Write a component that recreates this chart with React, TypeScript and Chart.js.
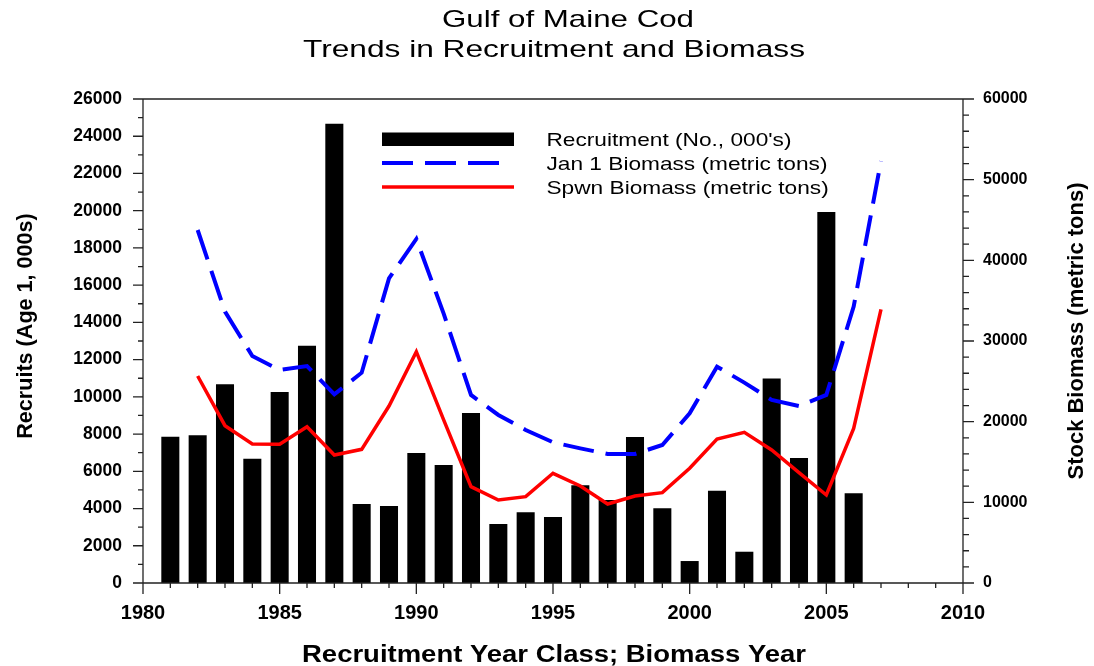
import React, { useEffect, useRef } from 'react';
import { Chart, registerables } from 'chart.js';

Chart.register(...registerables);

// ---------- data ----------
const titleLines = ['Gulf of Maine Cod', 'Trends in Recruitment and Biomass'];
const xAxisTitle = 'Recruitment Year Class; Biomass Year';
const leftAxisTitle = 'Recruits (Age 1, 000s)';
const rightAxisTitle = 'Stock Biomass (metric tons)';
const legendLabels = ["Recruitment (No., 000's)", 'Jan 1 Biomass (metric tons)', 'Spwn Biomass (metric tons)'];

const recruitYears = [1981, 1982, 1983, 1984, 1985, 1986, 1987, 1988, 1989, 1990, 1991, 1992, 1993,
  1994, 1995, 1996, 1997, 1998, 1999, 2000, 2001, 2002, 2003, 2004, 2005, 2006];
const recruits = [7860, 7940, 10670, 6680, 10260, 12750, 24670, 4240, 4140, 6980, 6340, 9130, 3170,
  3800, 3550, 5250, 4460, 7840, 4010, 1180, 4960, 1680, 10980, 6720, 19930, 4820];

const biomassYears = [1982, 1983, 1984, 1985, 1986, 1987, 1988, 1989, 1990, 1991, 1992, 1993, 1994,
  1995, 1996, 1997, 1998, 1999, 2000, 2001, 2002, 2003, 2004, 2005, 2006, 2007];
const jan1Biomass = [43760, 33640, 28140, 26400, 26900, 23390, 26070, 37770, 42650, 33400, 23310, 20830, 18970,
  17450, 16690, 15990, 16000, 17110, 21030, 26820, 24840, 22690, 21940, 23310, 34260, 52310];
const spawnBiomass = [25660, 19500, 17230, 17190, 19380, 15870, 16570, 21940, 28680, 20210, 11940, 10290, 10700,
  13600, 12030, 9790, 10790, 11200, 14220, 17850, 18680, 16490, 13680, 10910, 19170, 33930];

const xRange = [1980, 2010];
const xTickStep = 5;
const leftRange = [0, 26000];
const leftTickStep = 2000;
const rightRange = [0, 60000];
const rightTickStep = 10000;

// ---------- styles ----------
const FONT = '"Liberation Sans", Arial, Helvetica, sans-serif';
const BLUE = '#0000ff';
const RED = '#ff0000';
const BAR = '#000000';
const DASH = [31, 12];

function stretchText(ctx: CanvasRenderingContext2D, text: string, x: number, y: number, font: string, sx: number, align: CanvasTextAlign) {
  ctx.save();
  ctx.font = font;
  ctx.translate(x, y);
  ctx.scale(sx, 1);
  ctx.textAlign = align;
  ctx.textBaseline = 'alphabetic';
  ctx.fillStyle = '#000';
  ctx.fillText(text, 0, 0);
  ctx.restore();
}

function fitScale(ctx: CanvasRenderingContext2D, text: string, font: string, width: number) {
  ctx.save();
  ctx.font = font;
  const w = ctx.measureText(text).width;
  ctx.restore();
  return width / w;
}

const framePlugin = {
  id: 'frameTicks',
  afterDatasetsDraw(chart: any) {
    const { ctx, chartArea: a, scales } = chart;
    ctx.save();
    ctx.strokeStyle = '#222';
    ctx.lineWidth = 1.3;
    ctx.beginPath();
    ctx.rect(a.left, a.top, a.right - a.left, a.bottom - a.top);
    // left ticks
    for (let v = leftRange[0]; v <= leftRange[1]; v += leftTickStep / 2) {
      const p = scales.y.getPixelForValue(v);
      const len = v % leftTickStep === 0 ? 10 : 5;
      ctx.moveTo(a.left - len, p);
      ctx.lineTo(a.left, p);
    }
    // right ticks
    for (let v = rightRange[0]; v <= rightRange[1]; v += rightTickStep / 5) {
      const p = scales.y2.getPixelForValue(v);
      const len = v % rightTickStep === 0 ? 11 : 6;
      ctx.moveTo(a.right, p);
      ctx.lineTo(a.right + len, p);
    }
    // x ticks
    for (let v = xRange[0]; v <= xRange[1]; v += 1) {
      const p = scales.x.getPixelForValue(v);
      const len = v % xTickStep === 0 ? 11 : 5;
      ctx.moveTo(p, a.bottom);
      ctx.lineTo(p, a.bottom + len);
    }
    ctx.stroke();
    ctx.restore();
  },
};

const textPlugin = {
  id: 'texts',
  afterDraw(chart: any) {
    const ctx: CanvasRenderingContext2D = chart.ctx;
    // title
    const tFont = `24px ${FONT}`;
    stretchText(ctx, titleLines[0], 568, 27, tFont, fitScale(ctx, titleLines[0], tFont, 252), 'center');
    stretchText(ctx, titleLines[1], 554, 56.5, tFont, fitScale(ctx, titleLines[1], tFont, 502), 'center');

    // x axis title
    const xFont = `bold 23px ${FONT}`;
    stretchText(ctx, xAxisTitle, 554, 661.5, xFont, fitScale(ctx, xAxisTitle, xFont, 504), 'center');

    // y axis titles
    ctx.save();
    ctx.fillStyle = '#000';
    ctx.font = `bold 21.6px ${FONT}`;
    ctx.textAlign = 'center';
    ctx.textBaseline = 'alphabetic';
    ctx.translate(32, 326);
    ctx.rotate(-Math.PI / 2);
    ctx.fillText(leftAxisTitle, 0, 0);
    ctx.restore();

    ctx.save();
    ctx.fillStyle = '#000';
    ctx.font = `bold 22px ${FONT}`;
    ctx.textAlign = 'center';
    ctx.textBaseline = 'alphabetic';
    ctx.translate(1083, 331);
    ctx.rotate(-Math.PI / 2);
    ctx.fillText(rightAxisTitle, 0, 0);
    ctx.restore();

    // legend
    const ds = chart.data.datasets;
    const barDs = ds.find((d: any) => d.type === 'bar');
    const jan = ds[0];
    const spw = ds[1];
    const lx0 = 382;
    const lx1 = 514;
    ctx.save();
    ctx.fillStyle = barDs.backgroundColor;
    ctx.fillRect(lx0, 132.5, lx1 - lx0, 13.5);
    ctx.strokeStyle = jan.borderColor;
    ctx.lineWidth = jan.borderWidth;
    ctx.setLineDash(jan.borderDash);
    ctx.beginPath();
    ctx.moveTo(lx0, 163);
    ctx.lineTo(501, 163);
    ctx.stroke();
    ctx.setLineDash([]);
    ctx.strokeStyle = spw.borderColor;
    ctx.lineWidth = spw.borderWidth;
    ctx.beginPath();
    ctx.moveTo(lx0, 187);
    ctx.lineTo(lx1, 187);
    ctx.stroke();
    ctx.restore();

    const lFont = `18.5px ${FONT}`;
    const lsx = fitScale(ctx, legendLabels[0], lFont, 245);
    stretchText(ctx, legendLabels[0], 546.5, 146, lFont, lsx, 'left');
    stretchText(ctx, legendLabels[1], 546.5, 169.5, lFont, lsx, 'left');
    stretchText(ctx, legendLabels[2], 546.5, 193.5, lFont, lsx, 'left');
  },
};

export default function App() {
  const ref = useRef<HTMLCanvasElement | null>(null);

  useEffect(() => {
    if (!ref.current) return;
    const fmt = (v: any) => String(v);
    const chart = new Chart(ref.current, {
      type: 'bar',
      data: {
        datasets: [
          {
            type: 'line',
            label: legendLabels[1],
            data: biomassYears.map((x, i) => ({ x, y: jan1Biomass[i] })),
            yAxisID: 'y2',
            borderColor: BLUE,
            backgroundColor: BLUE,
            borderWidth: 4,
            borderDash: DASH,
            pointRadius: 0,
            tension: 0,
            fill: false,
            order: 1,
          } as any,
          {
            type: 'line',
            label: legendLabels[2],
            data: biomassYears.map((x, i) => ({ x, y: spawnBiomass[i] })),
            yAxisID: 'y2',
            borderColor: RED,
            backgroundColor: RED,
            borderWidth: 3.5,
            pointRadius: 0,
            tension: 0,
            fill: false,
            order: 2,
          } as any,
          {
            type: 'bar',
            label: legendLabels[0],
            data: recruitYears.map((x, i) => ({ x, y: recruits[i] })),
            yAxisID: 'y',
            backgroundColor: BAR,
            borderWidth: 0,
            barPercentage: 0.66,
            categoryPercentage: 1,
            order: 3,
          } as any,
        ],
      },
      options: {
        responsive: false,
        devicePixelRatio: 1,
        animation: false,
        layout: { padding: { top: 99, left: 0, right: 0, bottom: 0 } },
        plugins: {
          legend: { display: false },
          title: { display: false },
          tooltip: { enabled: false },
        },
        scales: {
          x: {
            type: 'linear',
            position: 'bottom',
            min: xRange[0],
            max: xRange[1],
            offset: false,
            grid: { display: false, drawTicks: false },
            border: { display: false },
            ticks: {
              stepSize: xTickStep,
              color: '#000',
              padding: 18,
              maxRotation: 0,
              autoSkip: false,
              font: { family: FONT, size: 20, weight: 'bold' },
              callback: fmt,
            },
            afterFit: (s: any) => { s.height = 83; },
          },
          y: {
            type: 'linear',
            position: 'left',
            min: leftRange[0],
            max: leftRange[1],
            grid: { display: false, drawTicks: false },
            border: { display: false },
            ticks: {
              stepSize: leftTickStep,
              color: '#000',
              padding: 21,
              autoSkip: false,
              font: { family: FONT, size: 17.5, weight: 'bold' },
              callback: fmt,
            },
            afterFit: (s: any) => { s.width = 143; },
          },
          y2: {
            type: 'linear',
            position: 'right',
            min: rightRange[0],
            max: rightRange[1],
            grid: { display: false, drawTicks: false },
            border: { display: false },
            ticks: {
              stepSize: rightTickStep,
              color: '#000',
              padding: 20,
              autoSkip: false,
              font: { family: FONT, size: 16, weight: 'bold' },
              callback: fmt,
            },
            afterFit: (s: any) => { s.width = 131; },
          },
        },
      } as any,
      plugins: [framePlugin, textPlugin],
    });
    return () => chart.destroy();
  }, []);

  return (
    <div style={{ position: 'absolute', left: 0, top: 0, width: 1094, height: 666, background: '#fff' }}>
      <canvas ref={ref} width={1094} height={666} style={{ display: 'block', width: 1094, height: 666 }} />
    </div>
  );
}
